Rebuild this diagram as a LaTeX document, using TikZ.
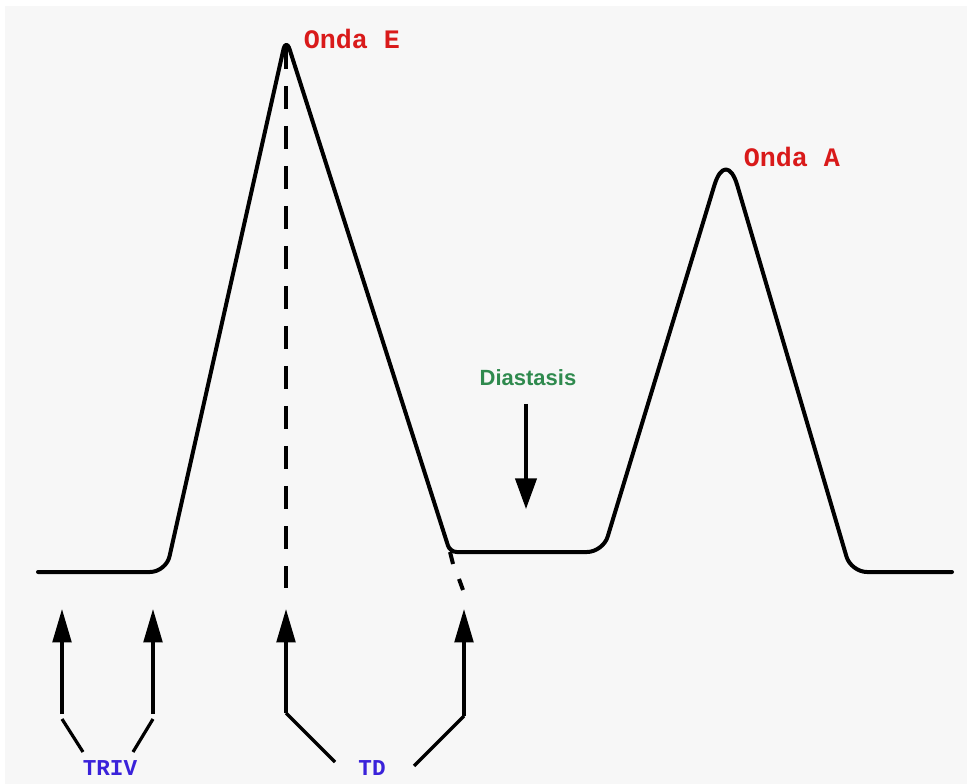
\documentclass[tikz,border=0pt]{standalone}
\usepackage{fontspec}
\setmonofont{Liberation Mono}
\setsansfont{Liberation Sans}
\usetikzlibrary{arrows.meta,calc}
\definecolor{bgc}{HTML}{F7F7F7}
\definecolor{ondared}{HTML}{D91A1A}
\definecolor{labblue}{HTML}{3A22DA}
\definecolor{diagreen}{HTML}{2F8A4E}
\begin{document}
\begin{tikzpicture}[x=0.75pt,y=-0.75pt,
  wave/.style={line width=3pt, line join=round, line cap=round},
  dashline/.style={line width=2.6pt, dash pattern=on 17.25pt off 12.75pt},
  uparrow/.style={line width=2.4pt, -{Triangle[length=25pt,width=14pt]}},
  downarrow/.style={line width=2.4pt, -{Triangle[length=23pt,width=16pt]}},
  leg/.style={line width=2.4pt},
  ondalab/.style={text=ondared, font=\ttfamily\bfseries\fontsize{20}{24}\selectfont, inner sep=0pt},
  phaselab/.style={text=labblue, font=\ttfamily\bfseries\fontsize{17}{20}\selectfont, inner sep=0pt},
  diaslab/.style={text=diagreen, font=\sffamily\bfseries\fontsize{16.5}{20}\selectfont, inner sep=0pt}]
\useasboundingbox (0,0) rectangle (972,784);
\fill[white] (0,0) rectangle (972,784);
\fill[bgc] (5,6) rectangle (967,784);

% key points of the wave
\coordinate (W0) at (38,572);
\coordinate (C1) at (166,572);
\coordinate (Eapex) at (286,38);
\coordinate (Ecorner) at (450,552);
\coordinate (C4) at (603,552);
\coordinate (Aapex) at (726,147);
\coordinate (C6) at (851,572);
\coordinate (W7) at (952,572);
\coordinate (M1) at ($(C1)!0.5!(Eapex)$);
\coordinate (M2) at ($(Eapex)!0.5!(Ecorner)$);
\coordinate (M3) at ($(Ecorner)!0.5!(C4)$);
\coordinate (M4) at ($(C4)!0.5!(Aapex)$);
\coordinate (M5) at ($(Aapex)!0.5!(C6)$);

% wave, corner by corner
\draw[wave, rounded corners=12pt] (W0) -- (C1) -- (M1);
\draw[wave, rounded corners=9pt] (M1) -- (Eapex) -- (M2);
\draw[wave, rounded corners=5pt] (M2) -- (Ecorner) -- (M3);
\draw[wave, rounded corners=12pt] (M3) -- (C4) -- (M4);
\draw[wave, rounded corners=30pt] (M4) -- (Aapex) -- (M5);
\draw[wave, rounded corners=12pt] (M5) -- (C6) -- (W7);

% extrapolation of E deceleration
\coordinate (X1) at (453,564);
\coordinate (X2) at (459,579);
\coordinate (X3) at (463,590);
\draw[wave, line cap=butt] (Ecorner) -- (X1);
\draw[wave, line cap=butt] (X2) -- (X3);

% dashed vertical at E peak
\coordinate (Epk) at (286,46);
\coordinate (Edash) at (286,588);
\draw[dashline] (Epk) -- (Edash);

% labels
\node[ondalab] (ondaE) at (352,39) {Onda E};
\node[ondalab] (ondaA) at (792,157) {Onda A};
\node[diaslab] (dias) at (528,378) {Diastasis};
\node[phaselab] (triv) at (110,768) {TRIV};
\node[phaselab] (td) at (372,768) {TD};

% diastasis arrow
\coordinate (dtop) at (526,404);
\coordinate (dtip) at (526,509);
\draw[downarrow] (dtop) -- (dtip);

% TRIV arrows
\coordinate (a1b) at (62,714);  \coordinate (a1t) at (62,609);
\coordinate (a2b) at (153,714); \coordinate (a2t) at (153,609);
\draw[uparrow] (a1b) -- (a1t);
\draw[uparrow] (a2b) -- (a2t);
\coordinate (l1a) at (62,719);  \coordinate (l1b) at (83,752);
\coordinate (l2a) at (153,719); \coordinate (l2b) at (133,752);
\draw[leg] (l1a) -- (l1b);
\draw[leg] (l2a) -- (l2b);

% TD arrows
\coordinate (a3b) at (286,713); \coordinate (a3t) at (286,609);
\coordinate (a4b) at (464,716); \coordinate (a4t) at (464,609);
\draw[uparrow] (a3b) -- (a3t);
\draw[uparrow] (a4b) -- (a4t);
\coordinate (l3b) at (335,762);
\coordinate (l4b) at (414,766);
\draw[leg] (a3b) -- (l3b);
\draw[leg] (a4b) -- (l4b);
\end{tikzpicture}
\end{document}
